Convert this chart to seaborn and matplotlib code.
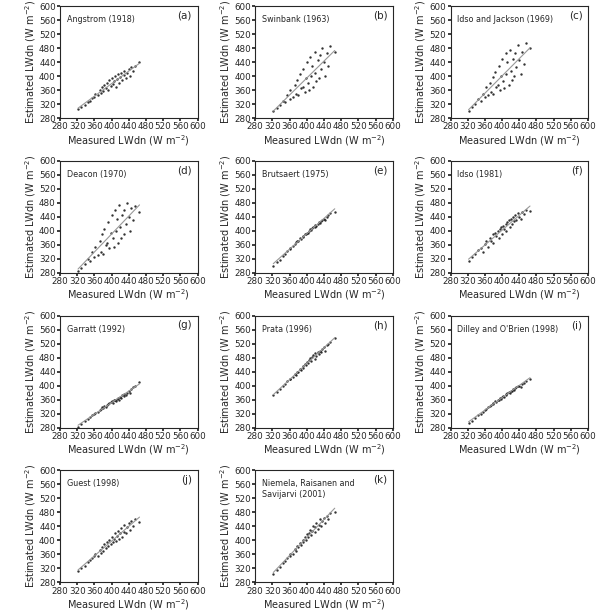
import matplotlib
matplotlib.use("Agg")
import matplotlib.pyplot as plt
import seaborn as sns
import numpy as np
import pandas as pd

measured = [322,330,338,345,350,355,360,362,368,372,375,378,380,383,386,390,392,395,398,400,
            403,405,408,410,412,415,418,420,422,425,428,430,433,436,440,443,446,450,455,465]

titles = ["Angstrom (1918)", "Swinbank (1963)", "Idso and Jackson (1969)", "Deacon (1970)",
          "Brutsaert (1975)", "Idso (1981)", "Garratt (1992)", "Prata (1996)",
          "Dilley and O'Brien (1998)", "Guest (1998)", "Niemela, Raisanen and\nSavijarvi (2001)"]
letters = ["(a)","(b)","(c)","(d)","(e)","(f)","(g)","(h)","(i)","(j)","(k)"]

est_a = [305,312,318,325,330,338,342,350,345,360,352,370,358,375,365,380,360,388,372,395,378,385,400,370,392,405,380,398,410,388,402,415,395,408,420,400,425,415,430,440]
est_b = [300,310,318,330,325,345,335,360,340,375,350,390,345,405,365,370,420,355,395,440,380,360,455,400,430,370,470,410,385,445,395,460,420,480,440,400,465,430,485,470]
est_c = [300,312,320,335,330,350,340,368,345,382,355,398,350,412,370,375,430,360,400,450,385,365,465,405,440,375,475,415,390,450,400,465,425,490,445,405,470,435,495,480]
est_d = [285,295,305,320,315,340,325,355,330,372,340,390,335,405,360,365,425,350,395,445,380,355,460,400,435,365,475,410,380,445,390,460,420,480,440,400,465,430,470,455]
est_e = [300,310,318,328,335,342,348,352,358,362,368,372,372,380,378,385,382,390,392,395,395,400,405,402,408,412,410,418,415,420,425,422,428,432,435,430,440,445,450,455]
est_f = [315,325,335,345,350,340,362,370,355,380,372,390,365,395,385,400,380,405,410,390,415,405,420,400,425,430,412,435,420,440,428,445,430,450,440,435,455,448,460,458]
est_g = [282,290,298,305,310,315,320,322,325,330,332,338,335,342,340,345,348,350,352,355,350,358,360,355,362,365,360,368,365,372,370,375,372,380,385,378,390,395,400,410]
est_h = [372,382,390,400,405,412,418,420,425,432,430,440,438,448,445,455,450,462,458,468,465,472,478,470,482,488,475,492,485,495,490,500,495,505,510,500,515,520,525,535]
est_i = [292,300,308,315,320,325,330,332,338,342,345,348,350,355,352,360,358,365,362,368,370,368,375,372,378,382,380,386,384,390,388,392,395,398,400,396,405,408,412,418]
est_j = [312,320,328,338,345,350,355,362,355,372,365,382,370,390,378,395,385,402,390,410,395,405,420,398,412,428,405,420,435,410,425,445,420,438,450,430,455,440,460,452]
est_k = [305,315,325,335,342,350,355,362,360,375,370,385,380,392,388,400,395,410,402,418,410,420,430,415,428,440,425,438,450,432,445,460,440,455,465,450,470,462,478,480]
estimates = [est_a, est_b, est_c, est_d, est_e, est_f, est_g, est_h, est_i, est_j, est_k]

ticks = list(range(280, 601, 40))

sns.set_theme(style="ticks")
plt.rcParams['font.family'] = ['DejaVu Sans']
fig, axes = plt.subplots(4, 3, figsize=(6.0, 6.13), dpi=100)
for idx, ax in enumerate(axes.flat):
    if idx >= len(estimates):
        ax.axis("off")
        continue
    df = pd.DataFrame({"m": measured, "e": estimates[idx]})
    sns.regplot(data=df, x="m", y="e", ax=ax, ci=None, truncate=True,
                scatter_kws=dict(s=3, color="black", linewidths=0),
                line_kws=dict(color="#999999", lw=0.8))
    ax.set_xlim(280, 600); ax.set_ylim(280, 600)
    ax.set_xticks(ticks); ax.set_yticks(ticks)
    ax.tick_params(labelsize=6.3, length=2, pad=1)
    ax.set_xlabel("Measured LWdn (W m$^{-2}$)", fontsize=7, labelpad=1)
    ax.set_ylabel("Estimated LWdn (W m$^{-2}$)", fontsize=7, labelpad=1)
    ax.text(0.05, 0.92, titles[idx], transform=ax.transAxes, fontsize=5.8, va="top")
    ax.text(0.96, 0.96, letters[idx], transform=ax.transAxes, fontsize=7.5, va="top", ha="right")
    for s in ax.spines.values():
        s.set_linewidth(0.8)
fig.subplots_adjust(left=0.1, right=0.98, top=0.99, bottom=0.05, wspace=0.42, hspace=0.38)
fig.savefig("out.png", dpi=100)
